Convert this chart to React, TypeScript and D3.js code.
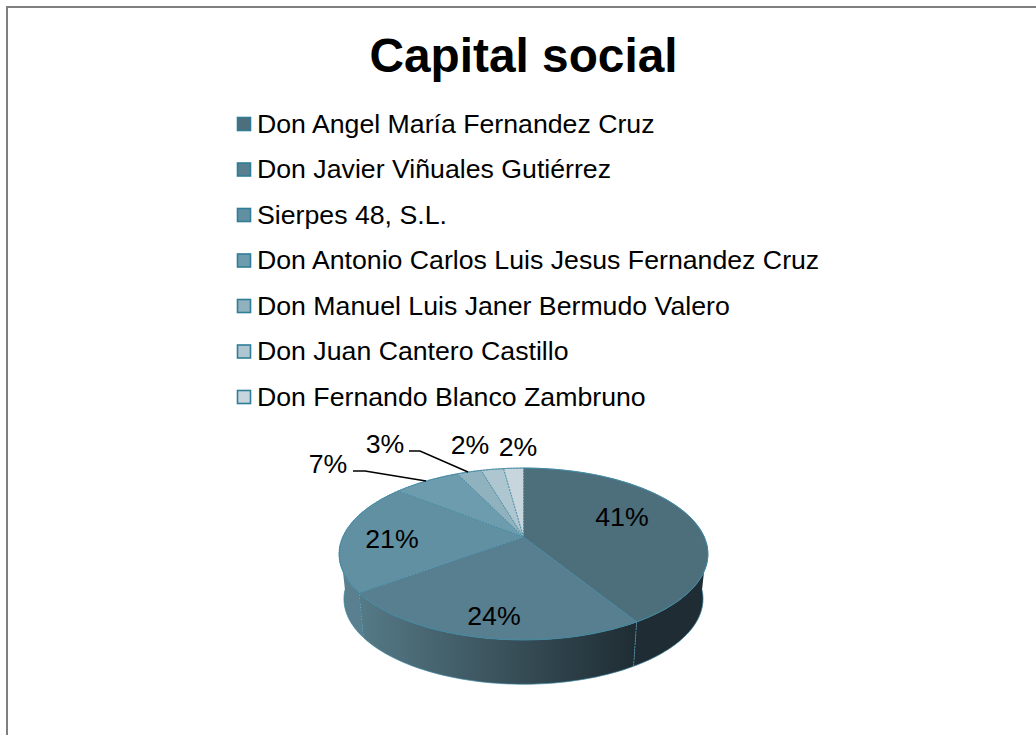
import React from 'react';
import * as d3 from 'd3';

const categories = [
  'Don Angel María Fernandez Cruz',
  'Don Javier Viñuales Gutiérrez',
  'Sierpes 48, S.L.',
  'Don Antonio Carlos Luis Jesus Fernandez Cruz',
  'Don Manuel Luis Janer Bermudo Valero',
  'Don Juan Cantero Castillo',
  'Don Fernando Blanco Zambruno',
];
const shares = [41.3, 23.5, 21.0, 7.1, 2.6, 2.4, 2.1];
const shareLabels = ['41%', '24%', '21%', '7%', '3%', '2%', '2%'];
const colors = ['#4d6e7b', '#587f90', '#6190a3', '#6c9cae', '#90b2bf', '#aec6cf', '#c7d5dc'];

const FONT = '"Liberation Sans", Arial, sans-serif';
const EDGE = '#3f86a0';

// perspective of the pie disc: the far edge is squeezed, so the apex sits above the ellipse centre
const cx = 523.5;
const cy = 537;
const persp = 0.198;
const project = (a: number, r: number, sy: number, oy: number): [number, number] => {
  const u = Math.sin(a);
  const v = Math.cos(a);
  const w = 1 + persp * v;
  return [cx + (r * u) / w, cy + oy - (sy * v) / w];
};
const top = (a: number) => project(a, 180.8, 82.6, 0);
const bottom = (a: number) => project(a, 176, 82, 45);

const line = d3.line();
const arcPts = (a0: number, a1: number, f: (a: number) => [number, number]) =>
  d3.range(0, 61).map((i) => f(a0 + ((a1 - a0) * i) / 60));

const arcs = d3.pie<number>().sort(null)(shares);

const y = d3.scalePoint<string>().domain(categories).range([124, 397]);

const labelPos = [
  [622, 526],
  [494, 625],
  [392, 548],
  [328, 473],
  [385, 453],
  [470, 454],
  [518, 456],
];

export default function App() {
  // visible side wall runs from the right extreme to the left extreme through the front
  const a0 = Math.PI * 0.53;
  const a1 = Math.PI * 1.47;
  const split = arcs[1].startAngle;
  const split2 = arcs[2].startAngle;
  const wall = (from: number, to: number) =>
    line([...arcPts(from, to, top), ...arcPts(to, from, bottom)]) + 'Z';

  return (
    <svg width={1036} height={735} style={{ position: 'absolute', left: 0, top: 0 }}>
      <defs>
        <linearGradient id="wallFront" gradientUnits="userSpaceOnUse" x1={362} x2={636} y1={0} y2={0}>
          <stop offset="0" stopColor="#557986" />
          <stop offset="1" stopColor="#1f2c33" />
        </linearGradient>
      </defs>
      <rect x={0} y={0} width={1036} height={735} fill="#fff" />
      <path d="M7 735V7H1036" fill="none" stroke="#7f7f7f" strokeWidth={2} />

      <text x={523.5} y={72} textAnchor="middle" fontFamily={FONT} fontWeight="bold" fontSize={47.8}>
        Capital social
      </text>

      {categories.map((c, i) => (
        <g key={c}>
          <rect x={237.5} y={y(c)! - 6.5} width={13} height={13} fill={colors[i]} stroke="#2f7d98" strokeWidth={1.6} />
          <text x={257} y={y(c)! + 8.5} fontFamily={FONT} fontSize={26.7}>
            {c}
          </text>
        </g>
      ))}

      <path d={wall(a0, split)} fill="#1f2c33" stroke="none" />
      <path d={wall(split, split2)} fill="url(#wallFront)" stroke="none" />
      <path d={wall(split2, a1)} fill="#5a7f8e" stroke="none" />
      <path d={line(arcPts(a0, a1, bottom))!} fill="none" stroke={EDGE} strokeWidth={0.7} />
      <path d={line([top(split), bottom(split)])!} stroke={EDGE} strokeWidth={1} strokeDasharray="2 1" />
      <path d={line([top(split2), bottom(split2)])!} stroke={EDGE} strokeWidth={1} strokeDasharray="2 1" />

      {arcs.map((d, i) => (
        <path
          key={i}
          d={line([[cx, cy], ...arcPts(d.startAngle, d.endAngle, top)])! + 'Z'}
          fill={colors[i]}
          stroke={EDGE}
          strokeWidth={0.8}
          strokeDasharray={i > 0 ? '2 1' : undefined}
        />
      ))}
      <path d={line(arcPts(0, Math.PI * 2, top))!} fill="none" stroke={EDGE} strokeWidth={0.8} />

      <path d="M353 471H365L426 481" fill="none" stroke="#000" strokeWidth={1.5} />
      <path d="M409 451H420L468 472" fill="none" stroke="#000" strokeWidth={1.5} />

      {shareLabels.map((s, i) => (
        <text
          key={i}
          x={labelPos[i][0]}
          y={labelPos[i][1]}
          textAnchor="middle"
          fontFamily={FONT}
          fontSize={26.7}
        >
          {s}
        </text>
      ))}
    </svg>
  );
}
